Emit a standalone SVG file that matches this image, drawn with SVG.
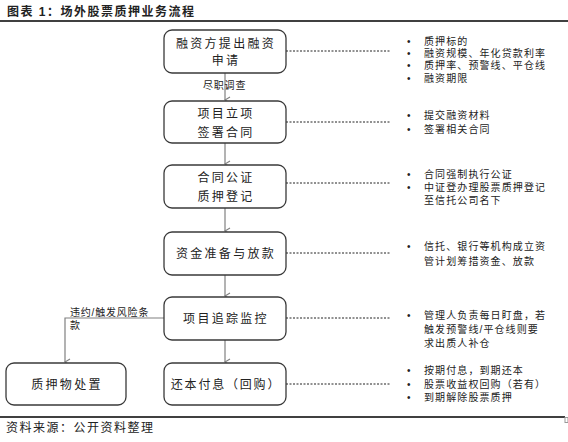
<svg xmlns="http://www.w3.org/2000/svg" width="568" height="442" viewBox="0 0 568 442">
<defs>
<style>
text{font-family:"Liberation Sans","Noto Sans CJK SC",sans-serif;fill:#222}
.box{fill:#fff;stroke:#3a3a3a;stroke-width:1.3}
.bt{font-size:12px;letter-spacing:2.3px;text-anchor:middle}
.rt{font-size:10px;letter-spacing:1.1px}
.bl{font-size:10px}
.lbl{font-size:10px;letter-spacing:0.8px}
.conn{stroke:#808080;stroke-width:1.2;fill:none}
.dot{stroke:#222;stroke-width:1;stroke-dasharray:2 1.5;fill:none}
.title{font-size:12px;font-weight:bold;letter-spacing:1.5px}
.foot{font-size:12px;letter-spacing:1.5px}
</style>
<marker id="arr" markerWidth="8" markerHeight="8" refX="4" refY="6" orient="auto" markerUnits="userSpaceOnUse" viewBox="0 0 8 8">
<path d="M1,1 L4,6 L7,1" fill="none" stroke="#808080" stroke-width="1.1"/>
</marker>
</defs>
<rect width="568" height="442" fill="#fff"/>
<text class="title" x="7" y="16">图表 1：场外股票质押业务流程</text>
<line x1="0" y1="21" x2="568" y2="21" stroke="#000" stroke-width="1.5"/>

<g id="connectors">
<line class="conn" x1="225" y1="73" x2="225" y2="100" marker-end="url(#arr)"/>
<line class="conn" x1="225" y1="143" x2="225" y2="164" marker-end="url(#arr)"/>
<line class="conn" x1="225" y1="208" x2="225" y2="231" marker-end="url(#arr)"/>
<line class="conn" x1="225" y1="275" x2="225" y2="296" marker-end="url(#arr)"/>
<line class="conn" x1="225" y1="340" x2="225" y2="362" marker-end="url(#arr)"/>
<polyline class="conn" points="164,318 65,318 65,362" marker-end="url(#arr)"/>
<text class="lbl" x="203" y="89">尽职调查</text>
<text class="lbl" x="70" y="316">违约/触发风险条<tspan x="70" dy="13">款</tspan></text>
<line class="dot" x1="286" y1="51" x2="390" y2="51"/>
<line class="dot" x1="286" y1="122" x2="390" y2="122"/>
<line class="dot" x1="286" y1="183" x2="390" y2="183"/>
<line class="dot" x1="286" y1="253" x2="390" y2="253"/>
<line class="dot" x1="286" y1="318" x2="390" y2="318"/>
<line class="dot" x1="286" y1="384" x2="390" y2="384"/>
</g>

<g id="n1">
<rect class="box" x="164" y="30" width="122" height="43" rx="8"/>
<text class="bt" x="226" y="47.5">融资方提出融资<tspan x="226" dy="17">申请</tspan></text>
</g>
<g id="n2">
<rect class="box" x="164" y="101" width="122" height="42" rx="8"/>
<text class="bt" x="226" y="117.5">项目立项<tspan x="226" dy="19">签署合同</tspan></text>
</g>
<g id="n3">
<rect class="box" x="164" y="165" width="122" height="43" rx="8"/>
<text class="bt" x="226" y="181.5">合同公证<tspan x="226" dy="19">质押登记</tspan></text>
</g>
<g id="n4">
<rect class="box" x="164" y="232" width="122" height="43" rx="8"/>
<text class="bt" x="226" y="257.5">资金准备与放款</text>
</g>
<g id="n5">
<rect class="box" x="164" y="297" width="122" height="43" rx="8"/>
<text class="bt" x="226" y="322.5">项目追踪监控</text>
</g>
<g id="n6">
<rect class="box" x="164" y="363" width="122" height="42" rx="8"/>
<text class="bt" x="226" y="388.5" style="letter-spacing:1.8px">还本付息（回购）</text>
</g>
<g id="n7">
<rect class="box" x="6" y="363" width="120" height="42" rx="8"/>
<text class="bt" x="67" y="388.5">质押物处置</text>
</g>

<g id="notes">
<text class="bl" x="407" y="44.5">•<tspan x="407" dy="12.5">•</tspan><tspan x="407" dy="12">•</tspan><tspan x="407" dy="12.5">•</tspan></text>
<text class="rt" x="424" y="44.5">质押标的<tspan x="424" dy="12.5">融资规模、年化贷款利率</tspan><tspan x="424" dy="12">质押率、预警线、平仓线</tspan><tspan x="424" dy="12.5">融资期限</tspan></text>

<text class="bl" x="407" y="118.5">•<tspan x="407" dy="14">•</tspan></text>
<text class="rt" x="424" y="118.5">提交融资材料<tspan x="424" dy="14">签署相关合同</tspan></text>

<text class="bl" x="407" y="177.5">•<tspan x="407" dy="13">•</tspan></text>
<text class="rt" x="424" y="177.5">合同强制执行公证<tspan x="424" dy="13">中证登办理股票质押登记</tspan><tspan x="424" dy="13">至信托公司名下</tspan></text>

<text class="bl" x="407" y="249.5">•</text>
<text class="rt" x="424" y="249.5">信托、银行等机构成立资<tspan x="424" dy="15">管计划筹措资金、放款</tspan></text>

<text class="bl" x="407" y="318.5">•</text>
<text class="rt" x="424" y="318.5">管理人负责每日盯盘，若<tspan x="424" dy="14">触发预警线/平仓线则要</tspan><tspan x="424" dy="14">求出质人补仓</tspan></text>

<text class="bl" x="407" y="373.5">•<tspan x="407" dy="14">•</tspan><tspan x="407" dy="13">•</tspan></text>
<text class="rt" x="424" y="373.5">按期付息，到期还本<tspan x="424" dy="14">股票收益权回购（若有）</tspan><tspan x="424" dy="13">到期解除股票质押</tspan></text>
</g>

<line x1="0" y1="417" x2="565" y2="417" stroke="#000" stroke-width="1.5"/>
<rect x="565" y="417.5" width="3" height="5" fill="none" stroke="#999" stroke-width="1"/>
<text class="foot" x="6" y="431.5">资料来源：公开资料整理</text>
</svg>
